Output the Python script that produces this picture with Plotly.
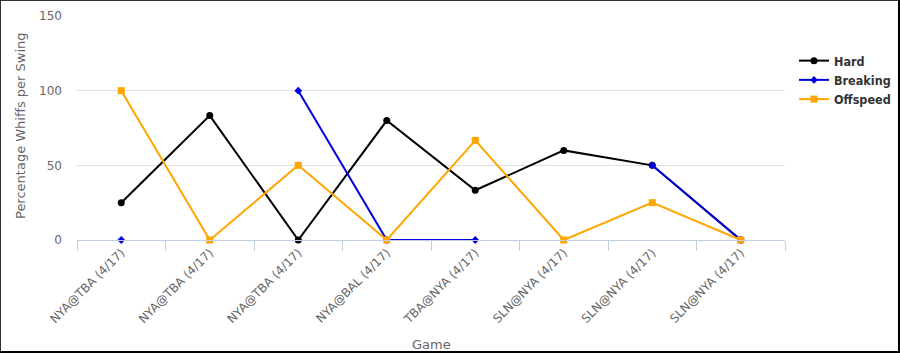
import plotly.graph_objects as go

games = ["NYA@TBA (4/17)", "NYA@TBA (4/17)", "NYA@TBA (4/17)", "NYA@BAL (4/17)",
         "TBA@NYA (4/17)", "SLN@NYA (4/17)", "SLN@NYA (4/17)", "SLN@NYA (4/17)"]
hard = [25, 83.3, 0, 80, 33.3, 60, 50, 0]
breaking = [0, None, 100, 0, 0, None, 50, 0]
offspeed = [100, 0, 50, 0, 66.7, 0, 25, 0]

xidx = list(range(len(games)))
bounds = [i - 0.5 for i in range(len(games) + 1)]

W, H = 900, 353
L, R, T, B = 77, 115, 16, 113
PW, PH = W - L - R, H - T - B

fig = go.Figure()
fig.add_trace(go.Scatter(x=xidx, y=hard, name="<b>Hard</b>", mode="lines+markers",
                         line=dict(color="#000000", width=2),
                         marker=dict(symbol="circle", size=7, color="#000000"),
                         cliponaxis=False))
fig.add_trace(go.Scatter(x=xidx, y=breaking, name="<b>Breaking</b>", mode="lines+markers",
                         line=dict(color="#0000E0", width=2),
                         marker=dict(symbol="diamond", size=6, color="#0000E0"),
                         cliponaxis=False))
fig.add_trace(go.Scatter(x=xidx, y=offspeed, name="<b>Offspeed</b>", mode="lines+markers",
                         line=dict(color="#FFA500", width=2),
                         marker=dict(symbol="square", size=7, color="#FFA500"),
                         cliponaxis=False))

fig.update_layout(
    width=W, height=H,
    margin=dict(l=L, r=R, t=T, b=B, autoexpand=False),
    paper_bgcolor="white", plot_bgcolor="white",
    font=dict(family="DejaVu Sans, Verdana, sans-serif", size=12, color="#666666"),
    showlegend=True,
    legend=dict(x=(794 - L) / PW, y=(240 - 46) / PH, xanchor="left", yanchor="top",
                font=dict(family="DejaVu Sans Condensed, DejaVu Sans, sans-serif",
                          size=12.5, color="#333333"),
                bgcolor="rgba(0,0,0,0)", tracegroupgap=0, itemwidth=30),
    xaxis=dict(range=[-0.5, len(games) - 0.5], tickmode="array", tickvals=xidx,
               ticktext=games, tickangle=-45, showgrid=False, zeroline=False,
               showline=True, linecolor="#C0D0E0", linewidth=1,
               ticks="", ticklen=0,
               minor=dict(tickmode="array", tickvals=bounds, ticks="outside", ticklen=10,
                          tickcolor="#C0D0E0", showgrid=False),
               tickfont=dict(size=12, color="#666666")),
    yaxis=dict(range=[0, 150], tickvals=[0, 50, 100, 150], showgrid=True,
               gridcolor="#E0E0E0", gridwidth=1, zeroline=False, showline=False,
               ticklabelstandoff=14, tickfont=dict(size=12, color="#666666")),
    annotations=[
        dict(text="Percentage Whiffs per Swing", xref="paper", yref="paper",
             x=(20 - L) / PW, y=(240 - 126) / PH, textangle=-90, showarrow=False,
             xanchor="center", yanchor="middle",
             font=dict(size=13, color="#666666")),
        dict(text="Game", xref="paper", yref="paper",
             x=(431 - L) / PW, y=(240 - 344) / PH, showarrow=False,
             xanchor="center", yanchor="middle",
             font=dict(size=13, color="#666666")),
    ],
    shapes=[
        dict(type="line", xref="paper", yref="paper", x0=-L / PW, x1=(W - L) / PW,
             y0=(H - B - 0.5) / PH, y1=(H - B - 0.5) / PH,
             line=dict(color="#333333", width=1)),
        dict(type="line", xref="paper", yref="paper", x0=(-L + 0.5) / PW, x1=(-L + 0.5) / PW,
             y0=-B / PH, y1=(H - B) / PH, line=dict(color="#333333", width=1)),
        dict(type="line", xref="paper", yref="paper", x0=(W - L - 1) / PW, x1=(W - L - 1) / PW,
             y0=-B / PH, y1=(H - B) / PH, line=dict(color="#000000", width=2)),
        dict(type="line", xref="paper", yref="paper", x0=-L / PW, x1=(W - L) / PW,
             y0=(-B + 1) / PH, y1=(-B + 1) / PH, line=dict(color="#000000", width=2)),
    ],
)

fig.write_html("out.html")
